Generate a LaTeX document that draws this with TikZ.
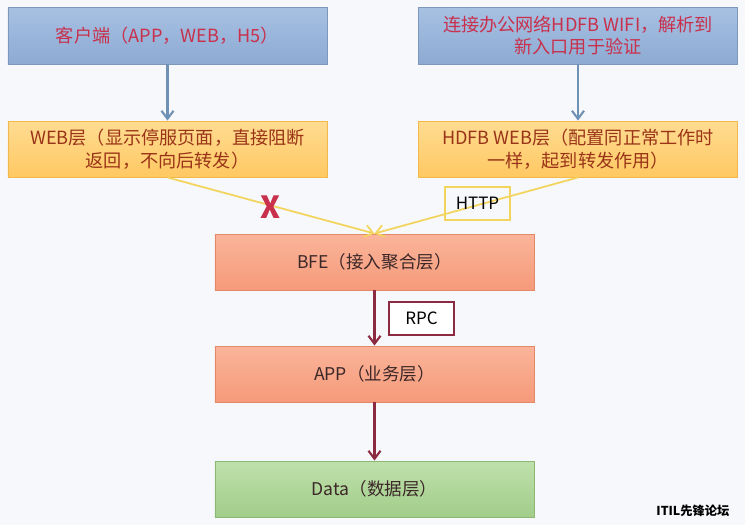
\documentclass[tikz,border=0pt]{standalone}
\usepackage{fontspec}
\setmainfont{Noto Sans CJK SC}
\usetikzlibrary{arrows.meta,positioning,calc}
\definecolor{PageBg}{HTML}{F7F8FB}
\definecolor{ClientTop}{HTML}{A7C1E2}
\definecolor{ClientBot}{HTML}{8DAAD3}
\definecolor{ClientLine}{HTML}{7E98BD}
\definecolor{ClientText}{HTML}{C8304C}
\definecolor{WebTop}{HTML}{FFDC92}
\definecolor{WebBot}{HTML}{FFC862}
\definecolor{WebLine}{HTML}{F2B84A}
\definecolor{WebText}{HTML}{9A3418}
\definecolor{BfeTop}{HTML}{FAB49A}
\definecolor{BfeBot}{HTML}{F69A7A}
\definecolor{BfeLine}{HTML}{E2896A}
\definecolor{DataTop}{HTML}{BFE0AC}
\definecolor{DataBot}{HTML}{A2CD8A}
\definecolor{DataLine}{HTML}{8DB874}
\definecolor{LayerText}{HTML}{3C2828}
\definecolor{BlueArrow}{HTML}{6F92B4}
\definecolor{GoldLine}{HTML}{F2D45E}
\definecolor{WineArrow}{HTML}{8C2A42}
\tikzset{
  clientbox/.style={draw=ClientLine, top color=ClientTop, bottom color=ClientBot,
                    line width=0.8pt, align=center, font=\fontsize{15.5}{19.5}\selectfont\color{ClientText},
                    minimum width=9.57cm, minimum height=1.71cm},
  webbox/.style={draw=WebLine, top color=WebTop, bottom color=WebBot,
                 line width=0.8pt, align=center, font=\fontsize{15.5}{19.5}\selectfont\color{WebText},
                 minimum width=9.57cm, minimum height=1.68cm},
  layerbox/.style={draw=BfeLine, top color=BfeTop, bottom color=BfeBot,
                   line width=0.8pt, align=center, font=\fontsize{15}{19}\selectfont\color{LayerText},
                   minimum width=9.57cm, minimum height=1.68cm},
  databox/.style={draw=DataLine, top color=DataTop, bottom color=DataBot,
                  line width=0.8pt, align=center, font=\fontsize{15}{19}\selectfont\color{LayerText},
                  minimum width=9.57cm, minimum height=1.68cm},
  tagbox/.style={line width=1.2pt, fill=white, minimum width=1.95cm, minimum height=0.99cm,
                 font=\fontsize{14.5}{17}\selectfont\color{black}},
  bluearrow/.style={-{Straight Barb[length=2.4mm,width=3.6mm]}, line width=1.8pt, BlueArrow},
  goldarrow/.style={-{Straight Barb[length=2.4mm,width=3.6mm]}, line width=1.5pt, GoldLine},
  winearrow/.style={-{Straight Barb[length=2.4mm,width=3.6mm]}, line width=1.8pt, WineArrow},
}

\begin{document}
\begin{tikzpicture}[x=0.03cm, y=-0.03cm]

  \fill[PageBg] (0,0) rectangle (745,525);
  \useasboundingbox (0,0) rectangle (745,525);

  % entry points
  \node[clientbox] (client) at (167.5,35.5) {客户端（APP，WEB，H5）};
  \node[clientbox] (office) at (578,35.5) {连接办公网络HDFB WIFI，解析到\\新入口用于验证};

  % web layers
  \node[webbox] (web) at (167.5,149) {WEB层（显示停服页面，直接阻断\\返回，不向后转发）};
  \node[webbox] (hdfb) at (578,149) {HDFB WEB层（配置同正常工作时\\一样，起到转发作用）};

  % backend layers
  \node[layerbox] (bfe) at (374.5,262) {BFE（接入聚合层）};
  \node[layerbox] (app) at (374.5,374) {APP（业务层）};
  \node[databox] (data) at (374.5,489) {Data（数据层）};

  \draw[bluearrow] (client) -- (web);
  \draw[bluearrow] (office) -- (hdfb);
  \draw[goldarrow] (web.south) -- (bfe.north);
  \draw[goldarrow] (hdfb.south) -- (bfe.north);
  \draw[winearrow] (bfe) -- (app);
  \draw[winearrow] (app) -- (data);

  % labels on the links
  \node[tagbox, draw=GoldLine, fill=none] (http) at (477.5,203.5) {HTTP};
  \node[tagbox, draw=WineArrow] (rpc) at (421.5,318.5) {RPC};
  \node[font=\fontsize{26}{26}\selectfont\bfseries\color{ClientText}] (block) at (271,207) {X};

  \node[font=\fontsize{10.5}{12}\selectfont\bfseries, text=black] (mark) at (693,511) {ITIL先锋论坛};

\end{tikzpicture}
\end{document}
